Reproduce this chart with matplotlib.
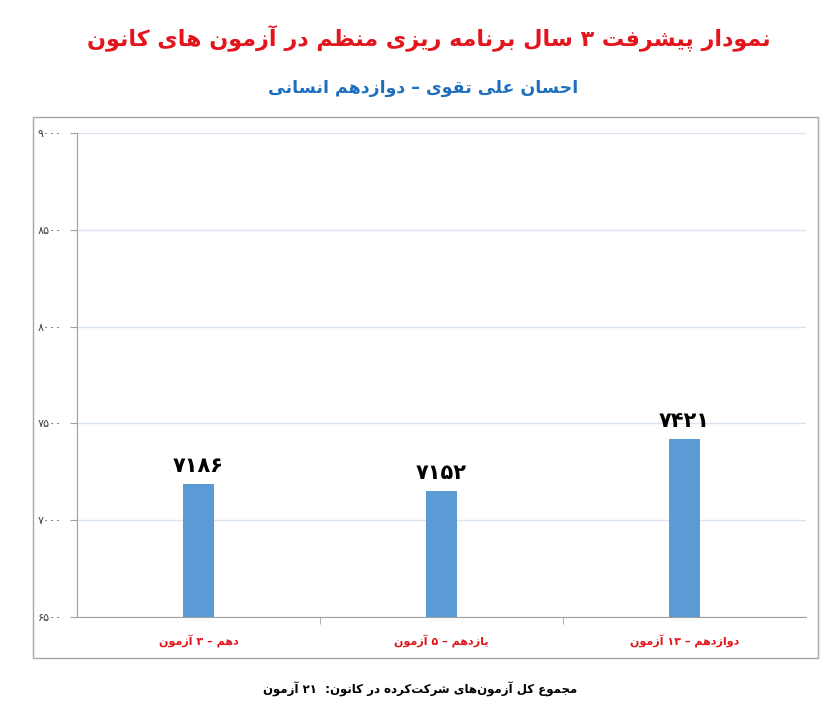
import matplotlib
matplotlib.use("Agg")
import matplotlib.pyplot as plt
from matplotlib.patches import Rectangle

# data
categories = ["دهم – ۳ آزمون", "یازدهم – ۵ آزمون", "دوازدهم – ۱۳ آزمون"]
scores = [7186, 7152, 7421]
y_ticks = [6500, 7000, 7500, 8000, 8500, 9000]
title = "نمودار پیشرفت ۳ سال برنامه ریزی منظم در آزمون های کانون"
subtitle = "احسان علی تقوی – دوازدهم انسانی"
footer = "مجموع کل آزمون\u200cهای شرکت\u200cکرده در کانون:  ۲۱ آزمون"

# simple persian shaping: isolated, final, initial, medial
FORMS = {
    "ا": (0xFE8D, 0xFE8E), "آ": (0xFE81, 0xFE82), "د": (0xFEA9, 0xFEAA),
    "ذ": (0xFEAB, 0xFEAC), "ر": (0xFEAD, 0xFEAE), "ز": (0xFEAF, 0xFEB0),
    "ژ": (0xFB8A, 0xFB8B), "و": (0xFEED, 0xFEEE),
    "ب": 0xFE8F, "پ": 0xFB56, "ت": 0xFE95, "ث": 0xFE99, "ج": 0xFE9D,
    "چ": 0xFB7A, "ح": 0xFEA1, "خ": 0xFEA5, "س": 0xFEB1, "ش": 0xFEB5,
    "ص": 0xFEB9, "ض": 0xFEBD, "ط": 0xFEC1, "ظ": 0xFEC5, "ع": 0xFEC9,
    "غ": 0xFECD, "ف": 0xFED1, "ق": 0xFED5, "ک": 0xFB8E, "گ": 0xFB92,
    "ل": 0xFEDD, "م": 0xFEE1, "ن": 0xFEE5, "ه": 0xFEE9, "ی": 0xFBFC,
}


def dual(c):
    return c in FORMS and not isinstance(FORMS[c], tuple)


def shape(text):
    out = []
    for i, c in enumerate(text):
        if c not in FORMS:
            if c != "\u200c":
                out.append(c)
            continue
        prev = text[i - 1] if i > 0 else ""
        nxt = text[i + 1] if i + 1 < len(text) else ""
        jp = dual(prev)
        jn = dual(c) and nxt in FORMS
        f = FORMS[c]
        if isinstance(f, tuple):
            out.append(chr(f[1] if jp else f[0]))
        else:
            idx = 3 if (jp and jn) else 1 if jp else 2 if jn else 0
            out.append(chr(f + idx))
    s = "".join(out)[::-1]
    # keep digit runs left to right
    res, run = "", ""
    for c in s:
        if "\u06f0" <= c <= "\u06f9":
            run += c
        else:
            res += run[::-1] + c
            run = ""
    return res + run[::-1]


def fa_num(n):
    return "".join(chr(0x06F0 + int(d)) for d in str(n))


plt.rcParams["font.family"] = ["DejaVu Sans"]

fig = plt.figure(figsize=(8.37, 7.15), dpi=100)
ax = fig.add_axes([0.092, 0.137, 0.871, 0.677])

x = range(len(categories))
bars = ax.bar(x, scores, width=0.13, color="#5b9bd5", zorder=3)
for i, v in enumerate(scores):
    ax.text(i, v + 40, fa_num(v), ha="center", va="bottom",
            fontsize=15, fontweight="bold", color="black")

ax.set_ylim(6500, 9000)
ax.set_xlim(-0.5, 2.5)
ax.set_yticks(y_ticks)
ax.set_yticklabels([fa_num(t) for t in y_ticks], fontsize=8, color="#404040")
ax.set_xticks(list(x))
ax.set_xticklabels([shape(c) for c in categories], fontsize=8,
                   fontweight="bold", color="#e3141b")
ax.tick_params(axis="x", length=0, pad=13)
ax.set_xticks([0.5, 1.5], minor=True)
ax.tick_params(axis="x", which="minor", length=5, color="#a0a0a0")
ax.tick_params(axis="y", length=5, color="#a0a0a0", pad=6)
ax.grid(axis="y", color="#dbe5f1", linewidth=1, zorder=0)

for side in ["top", "right"]:
    ax.spines[side].set_visible(False)
ax.spines["left"].set_color("#a0a0a0")
ax.spines["bottom"].set_color("#a0a0a0")

# outer frame
fig.patches.append(Rectangle((33 / 837, 1 - 658 / 715), (818 - 33) / 837,
                             (658 - 117) / 715, transform=fig.transFigure,
                             fill=False, edgecolor="#a6a6a6", linewidth=1))

fig.text(0.512, 1 - 38 / 715, shape(title), ha="center", va="center",
         fontsize=16, fontweight="bold", color="#e3141b")
fig.text(0.505, 1 - 88 / 715, shape(subtitle), ha="center", va="center",
         fontsize=12.5, fontweight="bold", color="#1f6fbf")
fig.text(0.502, 1 - 689 / 715, shape(footer), ha="center", va="center",
         fontsize=8.5, fontweight="bold", color="black")

fig.savefig("out.png", dpi=100, facecolor="white")
